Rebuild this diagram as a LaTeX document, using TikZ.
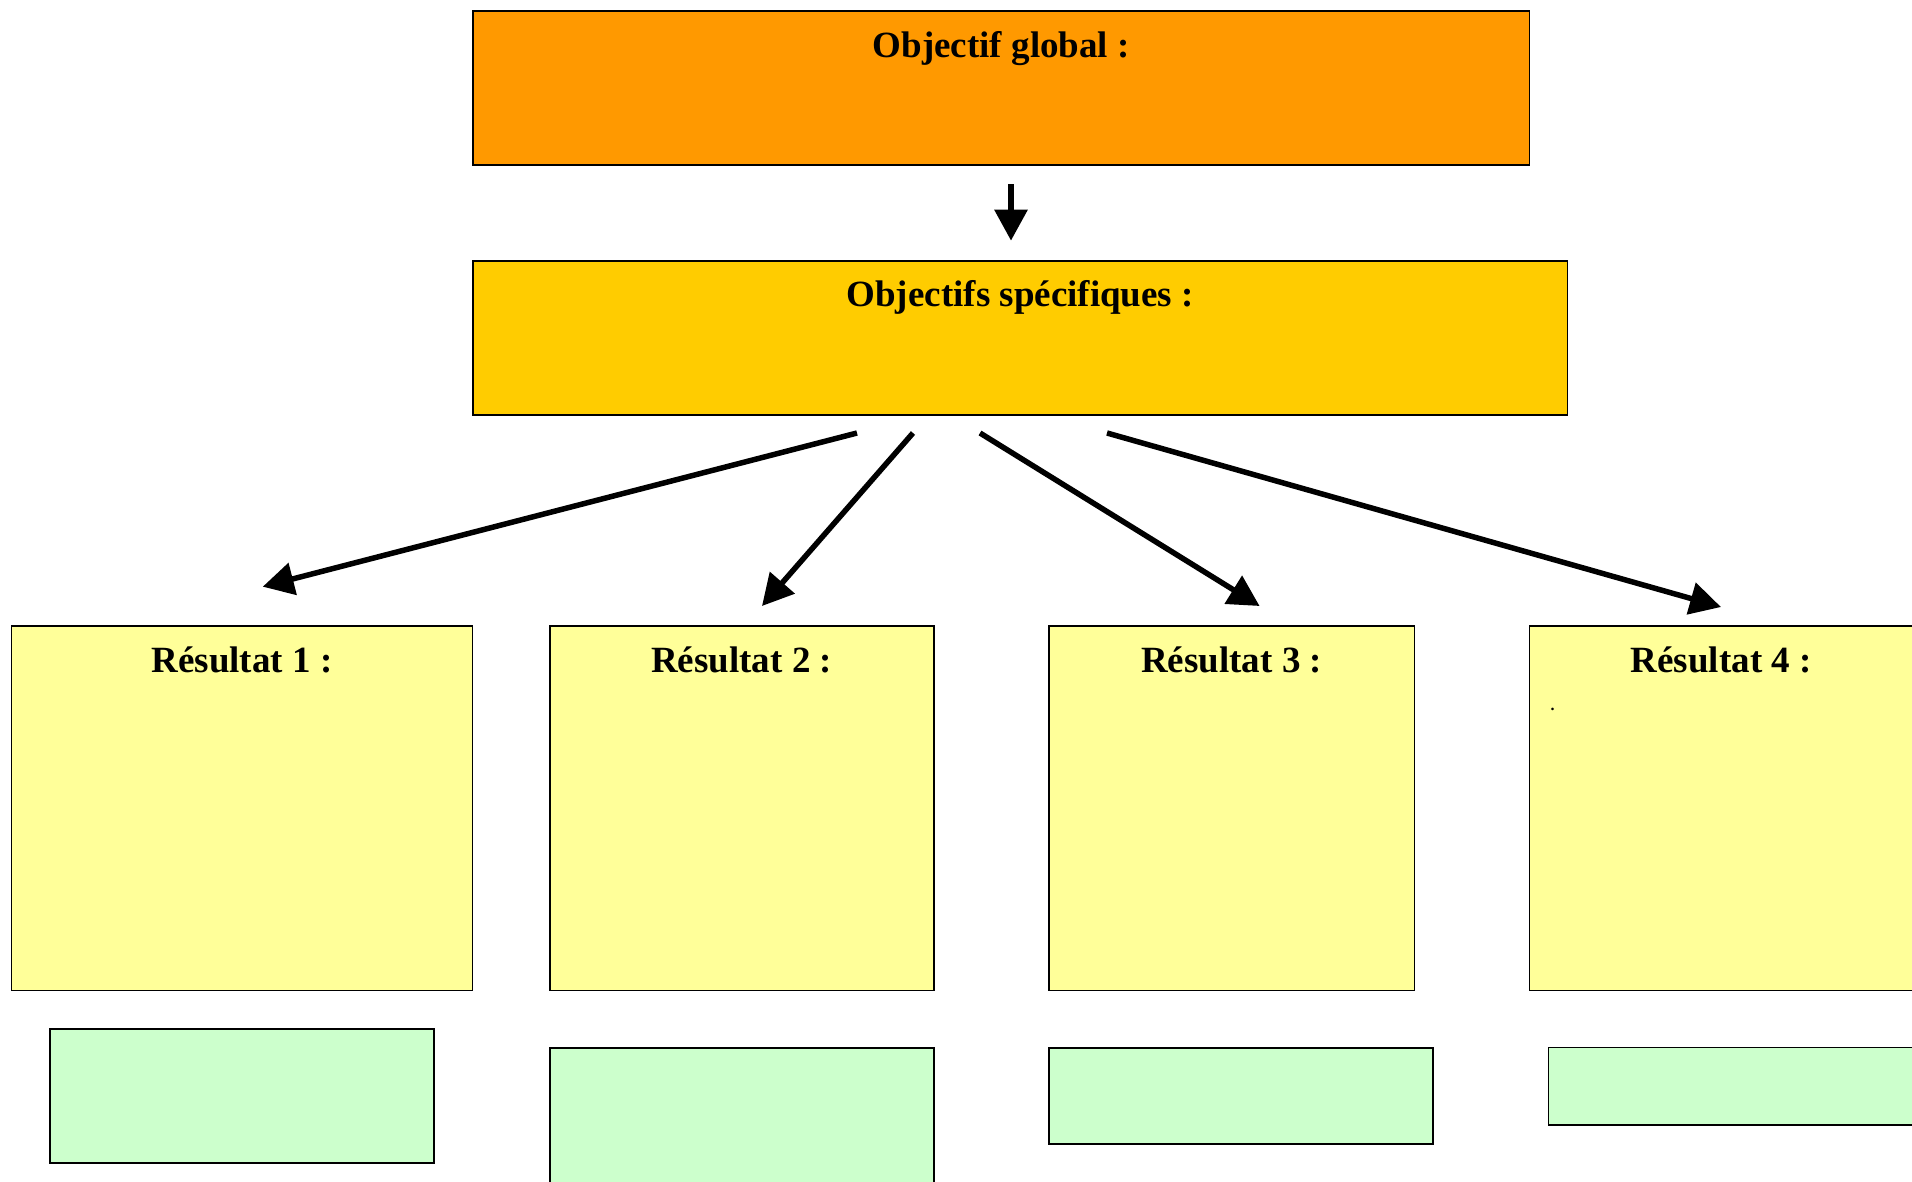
\documentclass[tikz,border=0pt]{standalone}
\usepackage{fontspec}
\setmainfont{Liberation Serif}
\usetikzlibrary{arrows.meta}
\definecolor{cglobal}{HTML}{FF9900}
\definecolor{cspec}{HTML}{FFCC00}
\definecolor{cres}{HTML}{FFFF99}
\definecolor{cact}{HTML}{CCFFCC}
\tikzset{
  boxbase/.style={draw=black, line width=1.6pt, inner sep=0pt, outer sep=0pt, anchor=north west},
  title/.style={anchor=base, inner sep=0pt, font=\fontsize{37}{44}\selectfont\bfseries},
  conn/.style={line width=5.5pt, -{Triangle[length=31pt,width=32pt]}},
}
\begin{document}
\begin{tikzpicture}[x=1pt,y=-1pt]
\useasboundingbox (0,0) rectangle (1912,1181);
% boxes
\node[boxbase, fill=cglobal, minimum width=1056.5pt, minimum height=153.7pt] (glob) at (473,11) {};
\node[boxbase, fill=cspec, minimum width=1094.5pt, minimum height=153.7pt] (spec) at (473,261) {};
\node[boxbase, fill=cres, minimum width=461pt, minimum height=364.5pt] (r1) at (11.5,626) {};
\node[boxbase, fill=cres, minimum width=384pt, minimum height=364.5pt] (r2) at (549.7,626) {};
\node[boxbase, fill=cres, minimum width=365.3pt, minimum height=364.5pt] (r3) at (1049,626) {};
\node[boxbase, fill=cres, minimum width=383.6pt, minimum height=364.5pt] (r4) at (1529.4,626) {};
\node[boxbase, fill=cact, minimum width=384pt, minimum height=134.3pt] (g1) at (50,1028.7) {};
\node[boxbase, fill=cact, minimum width=384pt, minimum height=145pt] (g2) at (550,1048) {};
\node[boxbase, fill=cact, minimum width=384pt, minimum height=96pt] (g3) at (1049,1048) {};
\node[boxbase, fill=cact, minimum width=366pt, minimum height=77.5pt] (g4) at (1548.5,1047.5) {};
% titles
\node[title] (tglob) at ([yshift=-46pt]glob.north) {Objectif global :};
\node[title] (tspec) at ([yshift=-45pt]spec.north) {Objectifs spécifiques :};
\node[title] (tr1) at ([yshift=-46pt]r1.north) {Résultat 1 :};
\node[title] (tr2) at ([yshift=-46pt]r2.north) {Résultat 2 :};
\node[title] (tr3) at ([yshift=-46pt]r3.north) {Résultat 3 :};
\node[title] (tr4) at ([yshift=-46pt]r4.north) {Résultat 4 :};
\node[anchor=base, inner sep=0pt, font=\fontsize{16}{18}\selectfont\bfseries] (dot) at (1552.5,710) {.};
% connector end points
\coordinate (d0) at (1011,184);
\coordinate (d1) at (1011,240.7);
\coordinate (s1) at (857,433);
\coordinate (e1) at (262.7,586.7);
\coordinate (s2) at (913,433);
\coordinate (e2) at (762,606);
\coordinate (s3) at (980,433);
\coordinate (e3) at (1259.6,606);
\coordinate (s4) at (1107,433);
\coordinate (e4) at (1721,607);
% connectors
\draw[conn, line width=6pt] (d0) -- (d1);
\draw[conn] (s1) -- (e1);
\draw[conn] (s2) -- (e2);
\draw[conn] (s3) -- (e3);
\draw[conn] (s4) -- (e4);
\end{tikzpicture}
\end{document}
